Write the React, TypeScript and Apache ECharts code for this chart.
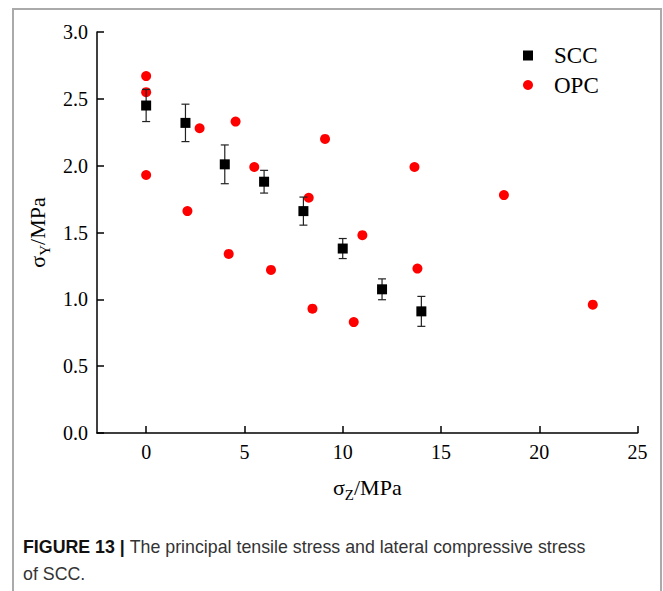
import React, { useEffect, useRef } from "react";
import * as echarts from "echarts";

// ---- data ----
const sccX = [0, 2, 4, 6, 8, 10, 12, 14];
const sccY = [2.45, 2.32, 2.01, 1.88, 1.66, 1.38, 1.075, 0.91];
const sccErr = [0.12, 0.14, 0.145, 0.085, 0.105, 0.075, 0.078, 0.112];

const opcX = [0, 0, 0, 2.1, 2.72, 4.2, 4.55, 5.5, 6.35, 8.27, 9.1, 8.46, 11.0, 10.56, 13.65, 13.8, 18.2, 22.72];
const opcY = [2.67, 2.55, 1.93, 1.66, 2.28, 1.34, 2.33, 1.99, 1.22, 1.76, 2.2, 0.93, 1.48, 0.83, 1.99, 1.23, 1.78, 0.96];

const xTicks = [0, 5, 10, 15, 20, 25];
const yTickLabels = ["0.0", "0.5", "1.0", "1.5", "2.0", "2.5", "3.0"];

const captionBold = "FIGURE 13 |";
const captionLine1 = "The principal tensile stress and lateral compressive stress";
const captionLine2 = "of SCC.";

const SERIF = "Liberation Serif";
const SANS = "Liberation Sans";

export default function App() {
  const ref = useRef<HTMLDivElement>(null);

  useEffect(() => {
    if (!ref.current) return;
    const chart = echarts.init(ref.current, undefined, { renderer: "svg" });

    const sccData = sccX.map((x, i) => [x, sccY[i]]);
    const errData = sccX.map((x, i) => [x, sccY[i] - sccErr[i], sccY[i] + sccErr[i]]);
    const opcData = opcX.map((x, i) => [x, opcY[i]]);

    const nameRich = {
      a: { fontFamily: SERIF, fontSize: 22, color: "#000", lineHeight: 30, verticalAlign: "middle" },
      s: { fontFamily: SERIF, fontSize: 15, color: "#000", lineHeight: 14, verticalAlign: "bottom" },
    };
    const tickRich = { t: { fontFamily: SERIF, fontSize: 20, color: "#000" } };

    const option: any = {
      animation: false,
      backgroundColor: "#ffffff",
      textStyle: { fontFamily: SERIF },
      grid: {
        left: 97,
        top: 32,
        width: 540.6,
        height: 401,
        containLabel: false,
        outerBoundsMode: "none",
      },
      legend: {
        data: ["SCC", "OPC"],
        orient: "vertical",
        left: 518,
        top: 38.5,
        itemWidth: 10,
        itemHeight: 10,
        itemGap: 5.5,
        textStyle: {
          fontFamily: SERIF,
          fontSize: 23,
          color: "#000",
          lineHeight: 24,
          padding: [0, 0, 0, 16],
        },
      },
      xAxis: {
        type: "value",
        min: -2.5,
        max: 25,
        splitLine: { show: false },
        axisLine: { show: true, onZero: false, lineStyle: { color: "#000", width: 1.5 } },
        axisTick: { show: true, inside: true, length: 7, customValues: xTicks, lineStyle: { color: "#000", width: 1.5 } },
        axisLabel: {
          customValues: xTicks,
          fontFamily: SERIF,
          fontSize: 20,
          color: "#000",
          margin: 9,
          formatter: (v: number) => `{t|${v}}`,
          rich: tickRich,
        },
        name: "{a|σ}{s|Z}{a|/MPa}",
        nameLocation: "middle",
        nameGap: 39,
        nameTextStyle: { rich: nameRich },
      },
      yAxis: {
        type: "value",
        min: 0,
        max: 3,
        interval: 0.5,
        splitLine: { show: false },
        axisLine: { show: true, onZero: false, lineStyle: { color: "#000", width: 1.5 } },
        axisTick: { show: true, inside: true, length: 7, lineStyle: { color: "#000", width: 1.5 } },
        axisLabel: {
          fontFamily: SERIF,
          fontSize: 20,
          color: "#000",
          margin: 9,
          formatter: (v: number) => `{t|${yTickLabels[Math.round(v / 0.5)] ?? v.toFixed(1)}}`,
          rich: tickRich,
        },
        name: "{a|σ}{s|Y}{a|/MPa}",
        nameLocation: "middle",
        nameGap: 44,
        nameTextStyle: { rich: nameRich },
      },
      series: [
        {
          name: "OPC",
          type: "scatter",
          symbol: "circle",
          symbolSize: 10,
          itemStyle: { color: "#ff0000", opacity: 1 },
          data: opcData,
          z: 2,
        },
        {
          name: "errors",
          type: "custom",
          data: errData,
          z: 3,
          renderItem: (params: any, api: any) => {
            const x = api.value(0);
            const lo = api.value(1);
            const hi = api.value(2);
            const pHi = api.coord([x, hi]);
            const pLo = api.coord([x, lo]);
            const hw = 4;
            const st = { stroke: "#222", lineWidth: 1.2 };
            return {
              type: "group",
              children: [
                { type: "line", shape: { x1: pHi[0], y1: pHi[1], x2: pLo[0], y2: pLo[1] }, style: st },
                { type: "line", shape: { x1: pHi[0] - hw, y1: pHi[1], x2: pHi[0] + hw, y2: pHi[1] }, style: st },
                { type: "line", shape: { x1: pLo[0] - hw, y1: pLo[1], x2: pLo[0] + hw, y2: pLo[1] }, style: st },
              ],
            };
          },
        },
        {
          name: "SCC",
          type: "scatter",
          symbol: "rect",
          symbolSize: 10,
          itemStyle: { color: "#000000", opacity: 1 },
          data: sccData,
          z: 4,
        },
      ],
      graphic: [
        {
          type: "polyline",
          shape: { points: [[13, 591], [13, 9], [661, 9], [661, 591]] },
          style: { stroke: "#aaaaaa", lineWidth: 2, fill: "none" },
          silent: true,
        },
        {
          type: "text",
          left: 23,
          top: 538,
          style: {
            text: `{b|${captionBold}} {n|${captionLine1}}`,
            rich: {
              b: { fontFamily: SANS, fontSize: 17.8, fontWeight: "bold", fill: "#111" },
              n: { fontFamily: SANS, fontSize: 17.8, fill: "#333" },
            },
            fontFamily: SANS,
            fontSize: 17.8,
          },
        },
        {
          type: "text",
          left: 23,
          top: 565,
          style: {
            text: captionLine2,
            fontFamily: SANS,
            fontSize: 17.8,
            fill: "#333",
          },
        },
      ],
    };

    chart.setOption(option);
    return () => chart.dispose();
  }, []);

  return (
    <div
      ref={ref}
      style={{ position: "fixed", left: 0, top: 0, width: 663, height: 591, background: "#fff" }}
    />
  );
}
